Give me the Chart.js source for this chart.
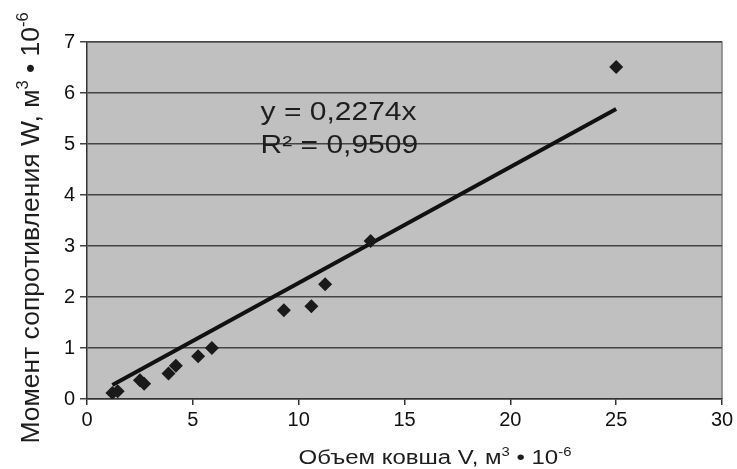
<!DOCTYPE html>
<html>
<head>
<meta charset="utf-8">
<script src="https://cdn.jsdelivr.net/npm/chart.js@4.4.1/dist/chart.umd.min.js"></script>
<style>
  html, body { margin: 0; padding: 0; background: #fff; }
  #wrap { width: 737px; height: 469px; }
</style>
</head>
<body>
<div id="wrap"><canvas id="chart" width="737" height="469"></canvas></div>
<script>
// данные
const volume = [1.2, 1.45, 2.5, 2.7, 3.85, 4.2, 5.25, 5.9, 9.3, 10.6, 11.25, 13.4, 25.0];
const moment = [0.12, 0.15, 0.37, 0.3, 0.5, 0.65, 0.84, 1.0, 1.74, 1.82, 2.25, 3.1, 6.51];
const slope = 0.2274;
const trendX = [1.2, 25.0];
const eqLines = ['y = 0,2274x', 'R² = 0,9509'];
const xTitle = [['Объем ковша V, м', 0], ['3', 1], [' • 10', 0], ['-6', 1]];
const yTitle = [['Момент сопротивления W, м', 0], ['3', 1], [' • 10', 0], ['-6', 1]];

const FONT = '"Liberation Sans", Arial, sans-serif';
const STRETCH = 1.2;

const points = volume.map((v, i) => ({ x: v, y: moment[i] }));
const trend = trendX.map(v => ({ x: v, y: slope * v }));

// текст с верхними индексами
function drawRich(ctx, parts, size) {
    let w = 0;
    parts.forEach(p => {
        ctx.font = (p[1] ? size * 0.62 : size) + 'px ' + FONT;
        w += ctx.measureText(p[0]).width;
    });
    let x = -w / 2;
    parts.forEach(p => {
        ctx.font = (p[1] ? size * 0.62 : size) + 'px ' + FONT;
        ctx.fillText(p[0], x, p[1] ? -size * 0.42 : 0);
        x += ctx.measureText(p[0]).width;
    });
}

const decor = {
    id: 'decor',
    beforeDraw(chart) {
        const { ctx, chartArea: a } = chart;
        ctx.save();
        ctx.fillStyle = '#c0c0c0';
        ctx.fillRect(a.left, a.top, a.right - a.left, a.bottom - a.top);
        ctx.strokeStyle = '#808080';
        ctx.lineWidth = 1.5;
        ctx.beginPath();
        ctx.moveTo(a.left, a.top);
        ctx.lineTo(a.right, a.top);
        ctx.lineTo(a.right, a.bottom);
        ctx.stroke();
        ctx.restore();
    },
    afterDraw(chart) {
        const { ctx } = chart;
        const xs = chart.scales.x, ys = chart.scales.y;
        ctx.save();
        ctx.fillStyle = '#1e1e1e';
        ctx.textBaseline = 'alphabetic';
        // уравнение тренда
        ctx.font = '25px ' + FONT;
        eqLines.forEach((t, i) => {
            ctx.save();
            ctx.translate(xs.getPixelForValue(8.2), ys.getPixelForValue(5.47 - i * 0.65));
            ctx.scale(STRETCH, 1);
            ctx.fillText(t, 0, 0);
            ctx.restore();
        });
        // подписи осей
        ctx.save();
        ctx.translate(435, 464);
        ctx.scale(STRETCH, 1);
        drawRich(ctx, xTitle, 20);
        ctx.restore();

        ctx.save();
        ctx.translate(39, 228);
        ctx.rotate(-Math.PI / 2);
        drawRich(ctx, yTitle, 26.5);
        ctx.restore();
        ctx.restore();
    }
};

new Chart(document.getElementById('chart'), {
    type: 'scatter',
    data: {
        datasets: [{
            data: points,
            pointStyle: 'rectRot',
            pointRadius: 7,
            backgroundColor: '#1a1a1a',
            borderColor: '#1a1a1a',
            borderWidth: 0
        }, {
            type: 'line',
            data: trend,
            borderColor: '#111',
            borderWidth: 4,
            pointRadius: 0,
            fill: false
        }]
    },
    options: {
        responsive: false,
        animation: false,
        layout: { padding: { top: 42, right: 15, left: 0, bottom: 0 } },
        plugins: { legend: { display: false }, tooltip: { enabled: false } },
        scales: {
            x: {
                type: 'linear', min: 0, max: 30,
                ticks: { stepSize: 5, color: '#111', font: { family: FONT, size: 20 }, padding: 3 },
                grid: { drawOnChartArea: false, drawTicks: true, tickLength: 6, color: '#333', lineWidth: 1.5 },
                border: { color: '#333', width: 1.5 },
                afterFit: s => { s.height = 70; }
            },
            y: {
                type: 'linear', min: 0, max: 7,
                ticks: { stepSize: 1, color: '#111', font: { family: FONT, size: 20 }, padding: 5 },
                grid: { color: '#444', lineWidth: 1.5, tickLength: 7 },
                border: { color: '#333', width: 1.5 },
                afterFit: s => { s.width = 87; }
            }
        }
    },
    plugins: [decor]
});
</script>
</body>
</html>
